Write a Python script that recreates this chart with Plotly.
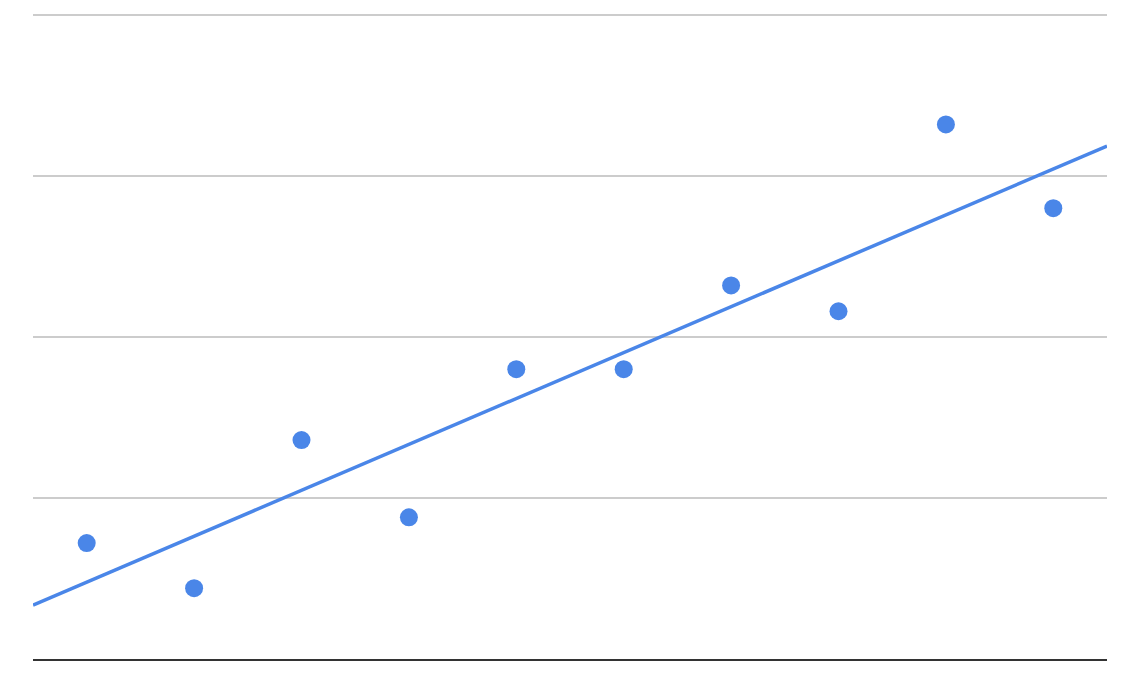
import plotly.graph_objects as go

# Data
x_values = [1, 2, 3, 4, 5, 6, 7, 8, 9, 10]
y_values = [0.72, 0.44, 1.36, 0.88, 1.80, 1.80, 2.32, 2.16, 3.32, 2.80]
trend_x = [0.5, 10.5]
trend_y = [0.335, 3.186]

fig = go.Figure()
fig.add_trace(go.Scatter(
    x=trend_x, y=trend_y, mode="lines",
    line=dict(color="#4a86e8", width=3.5),
    hoverinfo="skip", showlegend=False,
))
fig.add_trace(go.Scatter(
    x=x_values, y=y_values, mode="markers",
    marker=dict(color="#4a86e8", size=18, line=dict(width=0)),
    showlegend=False,
))

fig.update_layout(
    width=1120, height=676,
    margin=dict(l=25, r=21, t=3, b=25),
    paper_bgcolor="white", plot_bgcolor="white",
    showlegend=False,
    xaxis=dict(range=[0.5, 10.5], showgrid=False, zeroline=False,
               showticklabels=False, ticks="",
               showline=True, linecolor="#333333", linewidth=2),
    yaxis=dict(range=[0, 648 / 161], dtick=1, tick0=0, showgrid=True,
               gridcolor="#cccccc", gridwidth=1.5, zeroline=False,
               showticklabels=False, ticks="", showline=False),
)

fig.write_html("out.html")
